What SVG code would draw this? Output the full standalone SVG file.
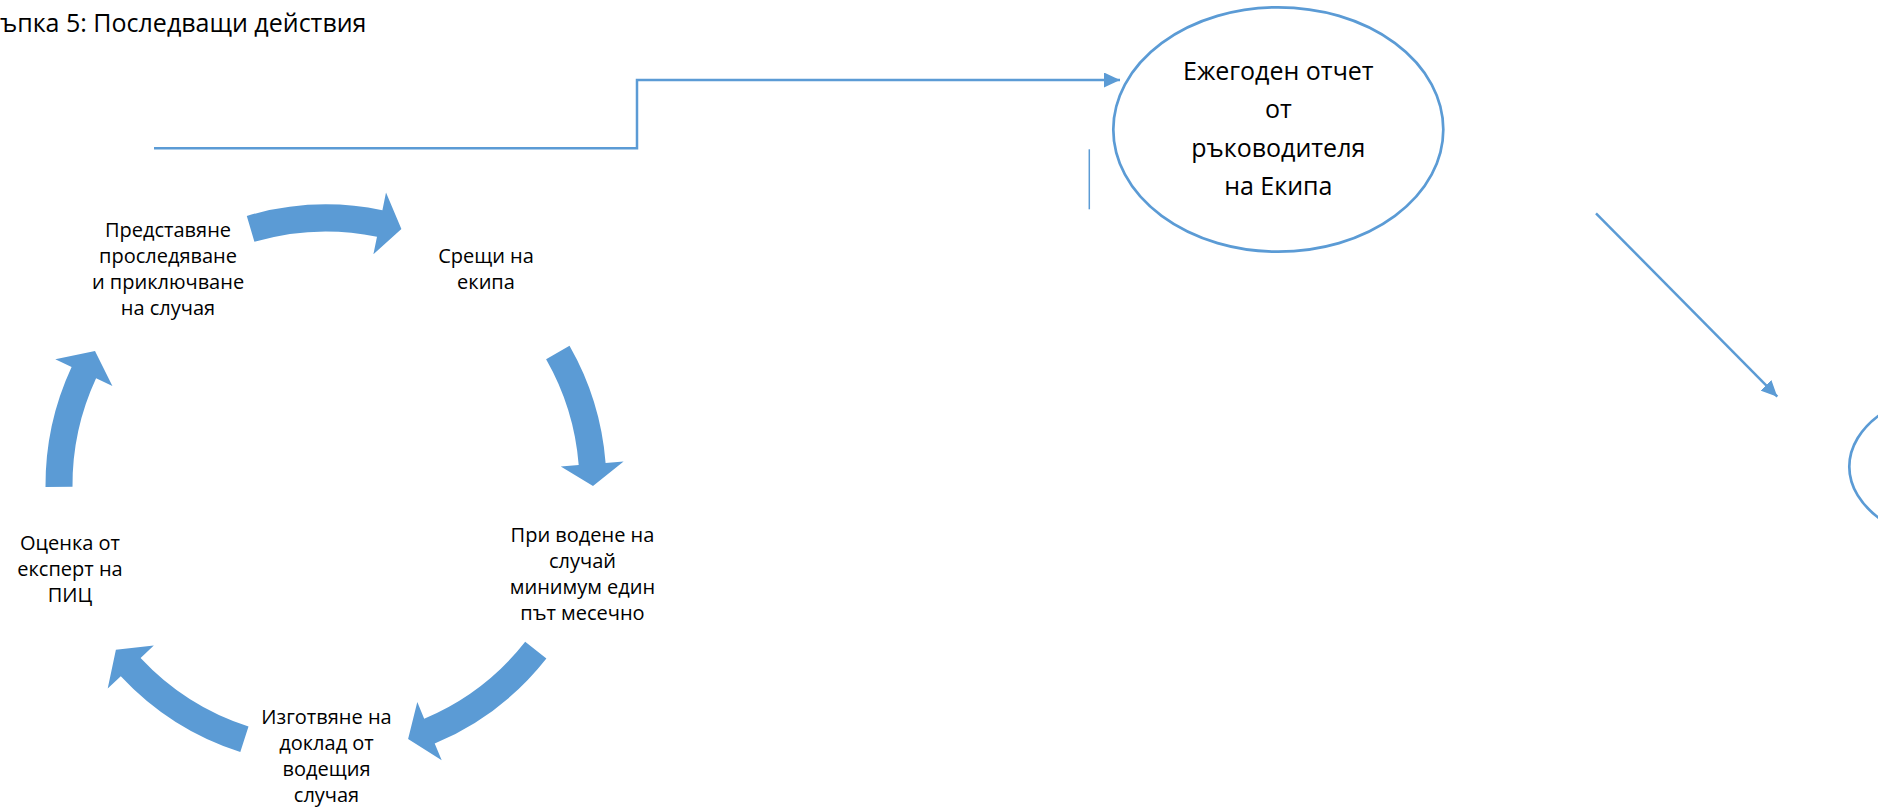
<svg xmlns="http://www.w3.org/2000/svg" width="1878" height="812" viewBox="0 0 1878 812">
<style>
.t{font-family:"Open Sans","Liberation Sans",sans-serif;fill:#000;text-anchor:middle}
.c{font-size:20px}
.e{font-size:25px}
.blk{fill:#5B9BD5;stroke:none}
.ln{fill:none;stroke:#5B9BD5;stroke-width:2.5}
.el{fill:#fff;stroke:#5B9BD5;stroke-width:2.7}
</style>
<defs>
<marker id="ah" markerUnits="userSpaceOnUse" markerWidth="16" markerHeight="15" refX="16" refY="7.5" orient="auto">
<path d="M0,0 L16,7.5 L0,15 Z" fill="#5B9BD5"/>
</marker>
</defs>
<rect width="1878" height="812" fill="#fff"/>
<text x="0" y="32" class="t e" style="text-anchor:start">ъпка 5: Последващи действия</text>
<g id="connectors">
<path class="blk" d="M246.8,215.9 A280.5,280.5 0 0 1 382.4,210.2 L386.0,192.6 L401.4,228.9 L373.4,254.3 L377.0,236.7 A253.5,253.5 0 0 0 254.4,241.8 Z"/>
<path class="blk" d="M569.5,345.8 A280.5,280.5 0 0 1 605.6,463.0 L623.6,461.6 L593,485.9 L560.8,466.5 L578.7,465.1 A253.5,253.5 0 0 0 546.1,359.2 Z"/>
<path class="blk" d="M546.4,658.5 A280.5,280.5 0 0 1 434.7,743.6 L441.7,760.2 L408.1,739.1 L417.3,702.1 L424.2,718.7 A253.5,253.5 0 0 0 525.2,641.8 Z"/>
<path class="blk" d="M240.3,752.1 A280.5,280.5 0 0 1 120.8,676.3 L107.7,688.6 L115.9,649.7 L153.8,645.6 L140.6,657.9 A253.5,253.5 0 0 0 248.5,726.4 Z"/>
<path class="blk" d="M45.5,487.0 A280.5,280.5 0 0 1 71.6,366.9 L55.3,359.3 L95.0,351.1 L112.4,385.9 L96.1,378.3 A253.5,253.5 0 0 0 72.5,486.8 Z"/>
<path class="ln" d="M154,148.3 H637 V80 H1120" marker-end="url(#ah)"/>
<path class="ln" d="M1596,213.3 L1777.3,396.7" marker-end="url(#ah)"/>
<line x1="1089.3" y1="149.3" x2="1089.3" y2="209.3" stroke="#5B9BD5" stroke-width="1.5"/>
</g>
<g id="node-predstavyane">
<text class="t c" x="168" y="236.7">Представяне</text>
<text class="t c" x="168" y="262.7">проследяване</text>
<text class="t c" x="168" y="288.7">и приключване</text>
<text class="t c" x="168" y="314.7">на случая</text>
</g>
<g id="node-sreshti">
<text class="t c" x="486" y="262.7">Срещи на</text>
<text class="t c" x="486" y="288.7">екипа</text>
</g>
<g id="node-pri-vodene">
<text class="t c" x="582.5" y="541.5">При водене на</text>
<text class="t c" x="582.5" y="567.5">случай</text>
<text class="t c" x="582.5" y="593.5">минимум един</text>
<text class="t c" x="582.5" y="619.5">път месечно</text>
</g>
<g id="node-izgotvyane">
<text class="t c" x="326.5" y="724">Изготвяне на</text>
<text class="t c" x="326.5" y="750">доклад от</text>
<text class="t c" x="326.5" y="776">водещия</text>
<text class="t c" x="326.5" y="802">случая</text>
</g>
<g id="node-ocenka">
<text class="t c" x="70" y="550">Оценка от</text>
<text class="t c" x="70" y="576">експерт на</text>
<text class="t c" x="70" y="602">ПИЦ</text>
</g>
<g id="node-ezhegoden">
<ellipse class="el" cx="1278.3" cy="129.5" rx="165" ry="122.2"/>
<text class="t e" x="1278.3" y="80">Ежегоден отчет</text>
<text class="t e" x="1278.3" y="118.3">от</text>
<text class="t e" x="1278.3" y="156.7">ръководителя</text>
<text class="t e" x="1278.3" y="195">на Екипа</text>
</g>
<g id="node-right">
<ellipse class="el" cx="1969.3" cy="466.7" rx="120" ry="78"/>
</g>
</svg>
